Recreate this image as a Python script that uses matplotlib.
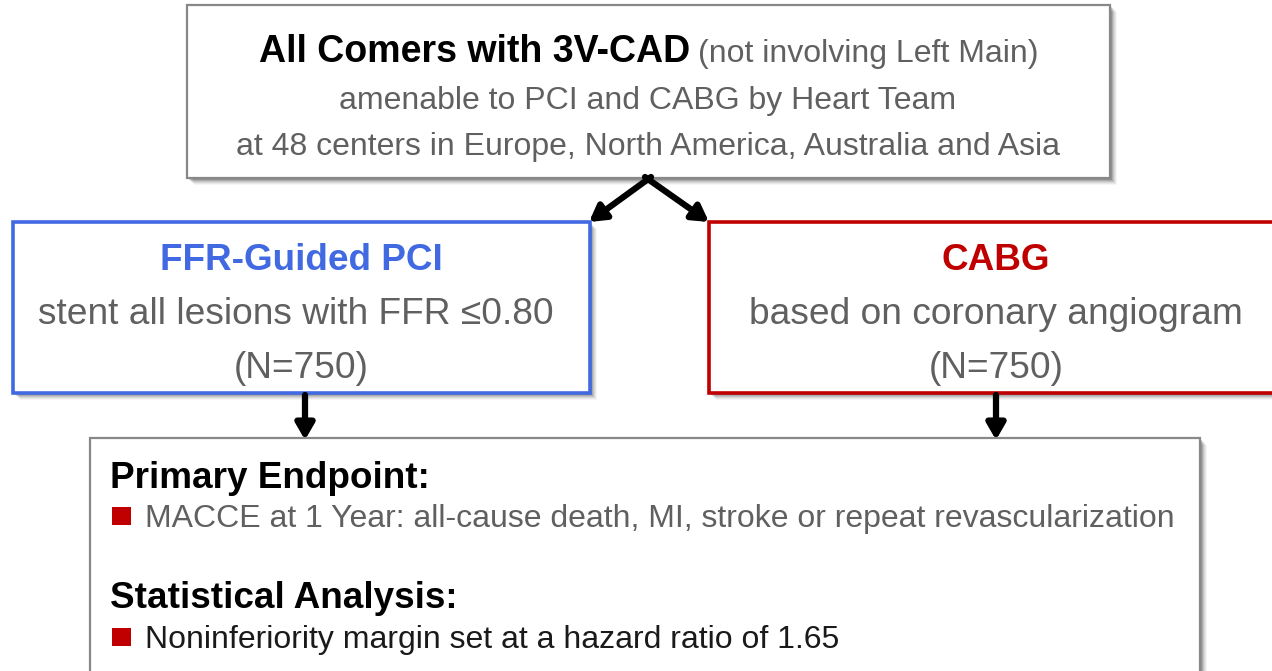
import matplotlib.pyplot as plt
from matplotlib.patches import Rectangle

plt.rcParams['font.family'] = ['Liberation Sans', 'DejaVu Sans']

# texts of the flow chart
top_title = 'All Comers with 3V-CAD'
top_note = '(not involving Left Main)'
top_lines = ['amenable to PCI and CABG by Heart Team',
             'at 48 centers in Europe, North America, Australia and Asia']
arm_titles = ['FFR-Guided PCI', 'CABG']
arm_lines = [['stent all lesions with FFR \u22640.80', '(N=750)'],
             ['based on coronary angiogram', '(N=750)']]
section_titles = ['Primary Endpoint:', 'Statistical Analysis:']
section_items = ['MACCE at 1 Year: all-cause death, MI, stroke or repeat revascularization',
                 'Noninferiority margin set at a hazard ratio of 1.65']

W, H = 1272, 671
GRAY = '#606060'
BLUE = '#4169E1'
RED = '#C00000'

fig = plt.figure(figsize=(W / 100, H / 100), dpi=100)
ax = fig.add_axes([0, 0, 1, 1])
ax.set_xlim(0, W)
ax.set_ylim(H, 0)
ax.axis('off')


def box(x0, y0, x1, y1, ec, lw):
    # soft shadow, lower right
    for k, a in zip(range(7, 0, -1), [0.04, 0.05, 0.07, 0.09, 0.12, 0.15, 0.18]):
        ax.add_patch(Rectangle((x0 + k, y0 + k), x1 - x0, y1 - y0,
                               fc='#000000', ec='none', alpha=a, zorder=1))
    ax.add_patch(Rectangle((x0, y0), x1 - x0, y1 - y0, fc='white', ec=ec,
                           lw=lw, zorder=2))


# top box
box(187, 5, 1110, 178, '#888888', 1.6)
ax.text(259, 52, top_title, fontsize=27, fontweight='bold', color='black',
        ha='left', va='center', zorder=3)
ax.text(698, 54, top_note, fontsize=23, color=GRAY, ha='left', va='center', zorder=3)
for i, s in enumerate(top_lines):
    ax.text(648, 101 + i * 46, s, fontsize=23, color=GRAY, ha='center', va='center', zorder=3)

# arms
arm_boxes = [(13, 222, 590, 393), (709, 222, 1290, 393)]
arm_cols = [BLUE, RED]
arm_cx = [296, 996]
for (x0, y0, x1, y1), c, cx, t, lines in zip(arm_boxes, arm_cols, arm_cx, arm_titles, arm_lines):
    box(x0, y0, x1, y1, c, 2.6)
    ax.text(cx if c == RED else 301, 261, t, fontsize=26.6, fontweight='bold', color=c,
            ha='center', va='center', zorder=3)
    for i, s in enumerate(lines):
        ax.text(cx if i == 0 or c == RED else 301, 315 + i * 54, s, fontsize=26.7,
                color=GRAY, ha='center', va='center', zorder=3)

# arrows
ap = dict(arrowstyle='-|>,head_length=0.95,head_width=0.55', color='black', lw=4.5,
          shrinkA=0, shrinkB=0)
ax.annotate('', xy=(589, 222), xytext=(651, 177), arrowprops=ap, zorder=4)
ax.annotate('', xy=(709, 222), xytext=(645, 177), arrowprops=ap, zorder=4)
ax.annotate('', xy=(305, 440), xytext=(305, 395), arrowprops=ap, zorder=4)
ax.annotate('', xy=(996, 440), xytext=(996, 395), arrowprops=ap, zorder=4)

# bottom box
box(90, 438, 1200, 700, '#888888', 1.6)
for i, (t, s) in enumerate(zip(section_titles, section_items)):
    yt = 478 + i * 121
    ax.text(110, yt, t, fontsize=26.6, fontweight='bold', color='black',
            ha='left', va='center', zorder=3)
    ax.add_patch(Rectangle((112, yt + 29), 19, 18, fc=RED, ec='none', zorder=3))
    ax.text(145, yt + 41, s, fontsize=23, color=GRAY if i == 0 else '#1a1a1a',
            ha='left', va='center', zorder=3)

fig.savefig('out.png', dpi=100)
